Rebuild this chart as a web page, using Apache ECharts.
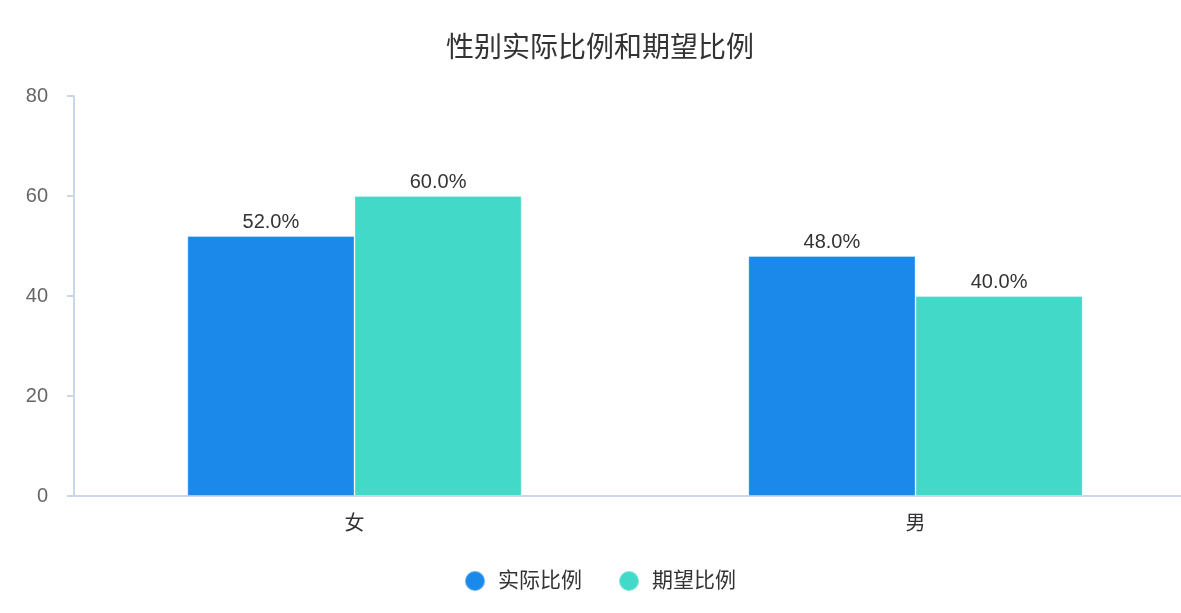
<!DOCTYPE html>
<html><head><meta charset="utf-8">
<script src="https://cdn.jsdelivr.net/npm/echarts@6/dist/echarts.min.js"></script>
<style>html,body{margin:0;padding:0;overflow:hidden;background:#fff}#c{width:1200px;height:613px}</style>
</head><body><div id="c"></div>
<script>
const categories = ['女', '男'];
const actualRatio = [52, 48];
const expectedRatio = [60, 40];
const seriesNames = ['实际比例', '期望比例'];
const yTicks = [0, 20, 40, 60, 80];

const chart = echarts.init(document.getElementById('c'), null, {renderer: 'canvas'});
const fontFamily = '"Liberation Sans", "Noto Sans CJK SC", sans-serif';
const lbl = {show: true, position: 'top', distance: 4, color: '#333', fontSize: 20, fontFamily,
  formatter: p => p.value.toFixed(1) + '%'};
chart.setOption({
  animation: false,
  textStyle: {fontFamily},
  title: {text: '性别实际比例和期望比例', left: 'center', top: 30,
    textStyle: {fontSize: 28, fontWeight: 'normal', color: '#333', fontFamily}},
  legend: {bottom: 16, left: 'center', icon: 'circle', itemWidth: 20, itemHeight: 20, itemGap: 36,
    textStyle: {fontSize: 21, color: '#333', fontFamily, padding: [0, 0, 0, 8]}, data: seriesNames},
  grid: {left: 74, right: 4, top: 96, bottom: 117},
  xAxis: {type: 'category', data: categories,
    axisLine: {lineStyle: {color: '#ccd6eb', width: 2}},
    axisTick: {show: false},
    axisLabel: {fontSize: 20, color: '#333', margin: 18, fontFamily}},
  yAxis: {type: 'value', min: yTicks[0], max: yTicks[yTicks.length - 1], interval: 20,
    axisLine: {show: true, lineStyle: {color: '#ccd6eb', width: 2}},
    axisTick: {show: true, length: 7, lineStyle: {color: '#ccd6eb', width: 2}},
    splitLine: {show: false},
    axisLabel: {fontSize: 20, color: '#666', margin: 26, fontFamily}},
  series: [
    {name: seriesNames[0], type: 'bar', data: actualRatio, barWidth: '29.8%', barGap: 0,
      itemStyle: {color: '#1b89ea', borderColor: 'rgba(255,255,255,0.3)', borderWidth: 1}, label: lbl},
    {name: seriesNames[1], type: 'bar', data: expectedRatio, barWidth: '29.8%', barGap: 0,
      itemStyle: {color: '#43d9c8', borderColor: 'rgba(255,255,255,0.3)', borderWidth: 1}, label: lbl}
  ]
});
</script></body></html>
